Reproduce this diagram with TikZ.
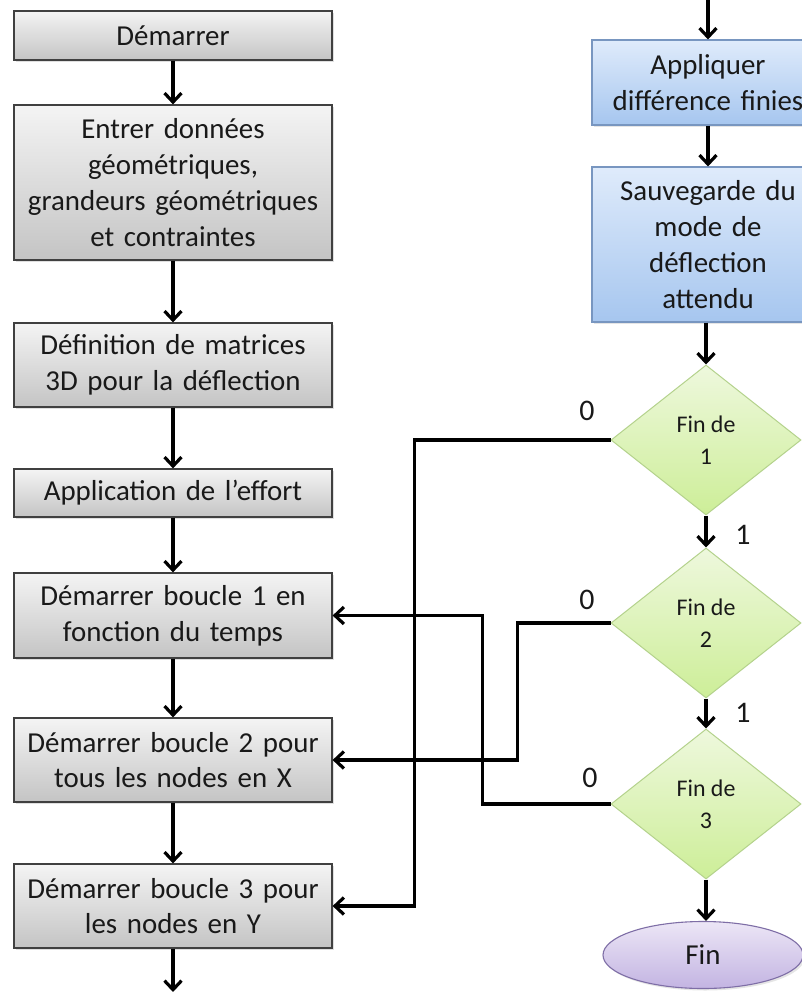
\documentclass[tikz,border=0pt]{standalone}
\usepackage{fontspec}
\setmainfont{Carlito}
\usetikzlibrary{arrows.meta,shapes.geometric,shadows}
\definecolor{gtop}{HTML}{F4F4F4}
\definecolor{gbot}{HTML}{C4C4C4}
\definecolor{gbrd}{HTML}{404040}
\definecolor{btop}{HTML}{DFEBFB}
\definecolor{bbot}{HTML}{A6C6EF}
\definecolor{bbrd}{HTML}{7896C0}
\definecolor{ltop}{HTML}{EEF8DD}
\definecolor{lbot}{HTML}{CDEE98}
\definecolor{lbrd}{HTML}{B4D28C}
\definecolor{ptop}{HTML}{ECE6F6}
\definecolor{pbot}{HTML}{C3B4E2}
\definecolor{pbrd}{HTML}{7E6EA6}
\tikzset{
  base/.style={align=center, inner sep=2bp, font=\fontsize{29}{36}\selectfont, text=black!90},
  graybox/.style={base, rectangle, draw=gbrd, line width=1.2bp, top color=gtop, bottom color=gbot,
     minimum width=318bp, text width=314bp, drop shadow={opacity=0.25, shadow xshift=2bp, shadow yshift=-2bp}},
  bluebox/.style={base, rectangle, draw=bbrd, line width=1.1bp, top color=btop, bottom color=bbot,
     minimum width=232bp, text width=228bp, drop shadow={opacity=0.2, shadow xshift=2bp, shadow yshift=-2bp}},
  decis/.style={base, diamond, draw=lbrd, line width=1bp, top color=ltop, bottom color=lbot,
     minimum width=190bp, minimum height=150bp, aspect=1.27, inner sep=0pt,
     font=\fontsize{24}{32}\selectfont},
  term/.style={base, ellipse, draw=pbrd, line width=1.1bp, top color=ptop, bottom color=pbot,
     minimum width=200bp, minimum height=67bp, inner sep=0pt,
     drop shadow={opacity=0.2, shadow xshift=2bp, shadow yshift=-2bp}},
  arr/.style={line width=3.2bp, draw=black, -{Straight Barb[length=9bp,width=17bp,line width=3.2bp]}},
  lbl/.style={font=\fontsize{30}{32}\selectfont, text=black!90, inner sep=0pt}
}
\begin{document}
\begin{tikzpicture}[x=1bp,y=-1bp]
\useasboundingbox[fill=white] (0,0) rectangle (802,992);
% left column
\node[graybox, minimum height=49bp] (start) at (173,35.5) {Démarrer};
\node[graybox, minimum height=155bp] (entrer) at (173,182.5) {Entrer données\\géométriques,\\grandeurs géométriques\\et contraintes};
\node[graybox, minimum height=84bp] (defn) at (173,365) {Définition de matrices\\3D pour la déflection};
\node[graybox, minimum height=48bp] (appeff) at (173,493) {Application de l’effort};
\node[graybox, minimum height=85bp] (b1) at (173,615.5) {Démarrer boucle 1 en\\fonction du temps};
\node[graybox, minimum height=84bp] (b2) at (173,760) {Démarrer boucle 2 pour\\tous les nodes en X};
\node[graybox, minimum height=84bp] (b3) at (173,906) {Démarrer boucle 3 pour\\les nodes en Y};
\coordinate (botout) at (173,992);
% right column
\coordinate (topin) at (708,0);
\node[bluebox, minimum height=85bp] (appl) at (708,82.5) {Appliquer\\différence finies};
\node[bluebox, minimum height=155bp] (sauv) at (708,244.5) {Sauvegarde du\\mode de\\déflection\\attendu};
\node[decis] (d1) at (706,440) {Fin de\\1};
\node[decis] (d2) at (706,623) {Fin de\\2};
\node[decis] (d3) at (706,804) {Fin de\\3};
\node[term] (fin) at (703,955) {Fin};
% main flow
\draw[arr] (start) -- (entrer);
\draw[arr] (entrer) -- (defn);
\draw[arr] (defn) -- (appeff);
\draw[arr] (appeff) -- (b1);
\draw[arr] (b1) -- (b2);
\draw[arr] (b2) -- (b3);
\draw[arr] (b3) -- (botout);
\draw[arr] (topin) -- (appl);
\draw[arr] (appl) -- (sauv);
\draw[arr] (sauv.south -| d1.north) -- (d1.north);
\draw[arr] (d1) -- (d2);
\draw[arr] (d2) -- (d3);
\draw[arr] (d3.south) -- (d3.south |- fin.north);
% loop-backs
\draw[arr] (d1.west) -- ++(-196,0) |- (b3.east);
\draw[arr] (d2.west) -- ++(-93,0) |- (b2.east);
\draw[arr] (d3.west) -- ++(-128,0) |- (b1.east);
% labels
\node[lbl] (l0a) at (587,411) {0};
\node[lbl] (l1a) at (743,535) {1};
\node[lbl] (l0b) at (587,600) {0};
\node[lbl] (l1b) at (743,713) {1};
\node[lbl] (l0c) at (590,778) {0};
\end{tikzpicture}
\end{document}
